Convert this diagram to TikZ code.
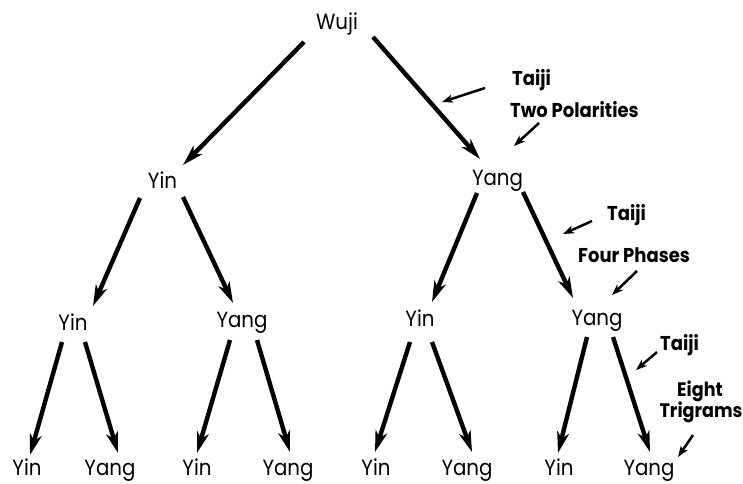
\documentclass[tikz,border=0pt]{standalone}
\usepackage{fontspec}
\setmainfont{Poppins}[FakeStretch=0.9]
\usetikzlibrary{arrows.meta,calc}

\tikzset{
  term/.style={anchor=base, inner sep=0pt, font=\fontsize{22}{24}\selectfont},
  note/.style={anchor=base west, inner sep=0pt, font=\fontsize{20}{22}\selectfont\bfseries},
  notec/.style={anchor=base, inner sep=0pt, font=\fontsize{19.5}{21}\selectfont\bfseries},
  branch/.style={line width=4.4pt, -{Stealth[length=21pt,width=12pt,inset=6pt]}},
  pointer/.style={line width=2.5pt, -{Stealth[length=11pt,width=8pt,inset=3pt]}}
}

\begin{document}
\begin{tikzpicture}[x=1pt, y=-1pt]
  \useasboundingbox (0,0) rectangle (743,483);

  % tree terms, placed by baseline
  \node[term] (wuji)  at (337,29)  {Wuji};
  \node[term] (yin1)  at (162.5,188) {Yin};
  \node[term] (yang1) at (497.5,185) {Yang};

  \node[term] (yin2a)  at (73,330)  {Yin};
  \node[term] (yang2a) at (242,327) {Yang};
  \node[term] (yin2b)  at (420,326) {Yin};
  \node[term] (yang2b) at (597,325) {Yang};

  \node[term] (yin3a)  at (27,475)  {Yin};
  \node[term] (yang3a) at (110,475) {Yang};
  \node[term] (yin3b)  at (197,475) {Yin};
  \node[term] (yang3b) at (288,475) {Yang};
  \node[term] (yin3c)  at (376,475) {Yin};
  \node[term] (yang3c) at (467,475) {Yang};
  \node[term] (yin3d)  at (559,475) {Yin};
  \node[term] (yang3d) at (649,475) {Yang};

  % annotations
  \node[note] (taijiA) at (512,85)  {Taiji};
  \node[note] (polar)  at (510,117) {Two Polarities};
  \node[note] (taijiB) at (607,220) {Taiji};
  \node[note] (phases) at (578,262) {Four Phases};
  \node[note] (taijiC) at (660,350) {Taiji};
  \node[notec] (eight)    at (700,396) {Eight};
  \node[notec] (trigrams) at (701,417) {Trigrams};

  % first split
  \draw[branch] ($(wuji.base)+(-33,13)$) -- ($(yin1.base)+(20.5,-23)$);
  \draw[branch] ($(wuji.base)+(36,8)$)   -- ($(yang1.base)+(-17.5,-26)$);

  % second split
  \draw[branch] ($(yin1.base)+(-22.5,10)$) -- ($(yin2a.base)+(20,-24)$);
  \draw[branch] ($(yin1.base)+(20.5,9)$)   -- ($(yang2a.base)+(-9,-24)$);
  \draw[branch] ($(yang1.base)+(-20.5,8)$) -- ($(yin2b.base)+(12,-24)$);
  \draw[branch] ($(yang1.base)+(25.5,7)$)  -- ($(yang2b.base)+(-24,-27)$);

  % third split
  \draw[branch] ($(yin2a.base)+(-11,12)$)  -- ($(yin3a.base)+(3,-20)$);
  \draw[branch] ($(yin2a.base)+(12,12)$)   -- ($(yang3a.base)+(8,-22)$);
  \draw[branch] ($(yang2a.base)+(-12,13)$) -- ($(yin3b.base)+(0,-22)$);
  \draw[branch] ($(yang2a.base)+(15,13)$)  -- ($(yang3b.base)+(2,-23)$);
  \draw[branch] ($(yin2b.base)+(-10,16)$)  -- ($(yin3c.base)+(-1,-23)$);
  \draw[branch] ($(yin2b.base)+(12,16)$)   -- ($(yang3c.base)+(5,-23)$);
  \draw[branch] ($(yang2b.base)+(-10,12)$) -- ($(yin3d.base)+(-1,-22)$);
  \draw[branch] ($(yang2b.base)+(16,12)$)  -- ($(yang3d.base)+(1,-23)$);

  % annotation pointers
  \draw[pointer] ($(taijiA.base west)+(-27,3)$) -- ($(taijiA.base west)+(-70,17)$);
  \draw[pointer] ($(polar.base west)+(29,6)$)   -- ($(polar.base west)+(4,29)$);
  \draw[pointer] ($(taijiB.base west)+(-15,1)$) -- ($(taijiB.base west)+(-44,14)$);
  \draw[pointer] ($(phases.base west)+(59,9)$)  -- ($(phases.base west)+(34,33)$);
  \draw[pointer] ($(taijiC.base west)+(-3,2)$)  -- ($(taijiC.base west)+(-24,20)$);
  \draw[pointer] ($(trigrams.base)+(-8,18)$) -- ($(trigrams.base)+(-23,40)$);
\end{tikzpicture}
\end{document}
